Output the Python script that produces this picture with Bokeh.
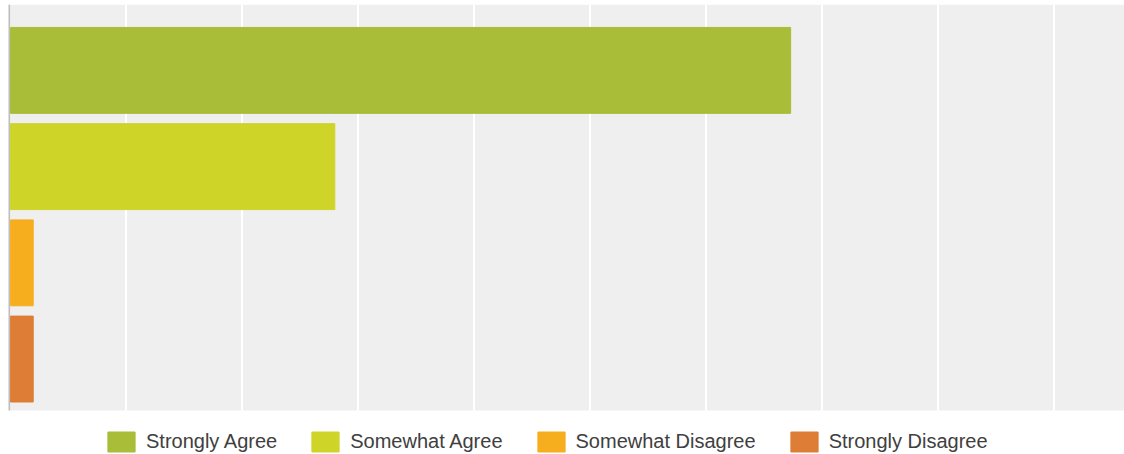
from bokeh.plotting import figure
from bokeh.models import ColumnDataSource, Range1d, Legend, LegendItem, BoxAnnotation
from bokeh.embed import file_html
from bokeh.resources import INLINE

categories = ["Strongly Agree", "Somewhat Agree", "Somewhat Disagree", "Strongly Disagree"]
values = [67.3, 28.0, 2.0, 2.0]
colors = ["#A9BD38", "#CFD428", "#F6AE1E", "#DE7D35"]
positions = [4, 3, 2, 1]
grid_ticks = [10, 20, 30, 40, 50, 60, 70, 80, 90]

Y_TOP, Y_PLOT_BOTTOM, Y_BOTTOM = 4.685, 0.465, 0.008

source = ColumnDataSource(dict(y=positions, value=values, label=categories, color=colors))

p = figure(width=1124, height=454, output_backend="svg", toolbar_location=None,
           x_range=Range1d(-0.13, 96.08), y_range=Range1d(Y_BOTTOM, Y_TOP),
           min_border_left=8, min_border_right=0, min_border_top=4, min_border_bottom=0)
p.background_fill_color = "white"
p.border_fill_color = "white"
p.outline_line_color = None
p.xaxis.visible = False
p.yaxis.visible = False
p.grid.visible = False

# plotting area background
p.add_layout(BoxAnnotation(bottom=Y_PLOT_BOTTOM, top=Y_TOP, fill_color="#EFEFEF",
                           fill_alpha=1, line_color=None, level="underlay"))

# vertical grid lines
gsrc = ColumnDataSource(dict(x=grid_ticks, y0=[Y_PLOT_BOTTOM] * len(grid_ticks),
                             y1=[Y_TOP] * len(grid_ticks)))
p.segment(x0="x", x1="x", y0="y0", y1="y1", line_color="white", line_width=2,
          source=gsrc)

# left axis line
p.segment(x0=[-0.08], x1=[-0.08], y0=[Y_PLOT_BOTTOM], y1=[Y_TOP],
          line_color="#BDBDBD", line_width=2)

r = p.hbar(y="y", right="value", left=0.05, height=0.893, fill_color="color",
           line_color="color", source=source)

items = [LegendItem(label=categories[i], renderers=[r], index=i) for i in range(len(categories))]
leg = Legend(items=items, orientation="horizontal", location=(96, 0),
             border_line_color=None, background_fill_alpha=0, margin=0, padding=0,
             spacing=31, glyph_width=34, glyph_height=25, label_standoff=8,
             label_text_font="Liberation Sans", label_text_font_size="20px",
             label_text_color="#404040", label_height=25, label_text_baseline="middle")
p.add_layout(leg, "center")

open("out.html", "w").write(file_html(p, INLINE))
